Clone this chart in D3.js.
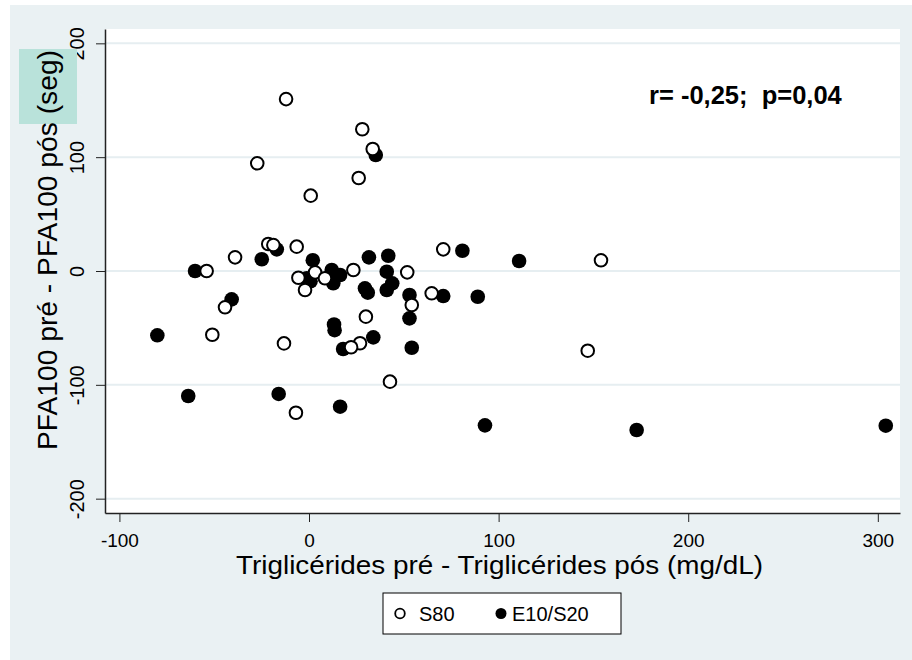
<!DOCTYPE html>
<html>
<head>
<meta charset="utf-8">
<script src="https://cdn.jsdelivr.net/npm/d3@7"></script>
<style>
  body { margin: 0; background: #fff; }
  svg { display: block; font-family: "Liberation Sans", Arial, sans-serif; }
</style>
</head>
<body>
<div id="chart"></div>
<script>
// data: [triglicerides diff, PFA100 diff]
const s80 = [
  [-12.1, 151], [28.1, 124.5], [33.6, 107.2], [-27.3, 94.6], [26.2, 81.7], [0.9, 66.2],
  [-21.5, 23.7], [-18.8, 22.8], [-6.5, 21.4], [-39, 12], [-54, 0], [-5.6, -5.9],
  [-2.1, -16.7], [3.2, -1.2], [8.4, -6.4], [23.4, 0.9], [51.8, -1.2], [54.2, -29.9],
  [30, -40.1], [26.9, -63.5], [22.2, -67], [-44.3, -31.9], [-51, -56], [-13.2, -63.6],
  [-6.9, -124.5], [42.7, -97.2], [70.8, 19], [64.7, -19.6], [154, 9.4], [147, -70]
];
const e10s20 = [
  [35.2, 101.9], [-17, 19], [-24.9, 10.3], [-60.1, 0], [2, 9.5], [-1.2, -6.4],
  [0.8, -9], [12, 0.9], [16.4, -3.5], [12.8, -10.8], [31.6, 12], [41.8, 13.4],
  [41, -0.6], [43.9, -10.8], [41, -16.7], [29.5, -15.2], [31, -19], [53, -21.1],
  [53, -41.6], [54.2, -67.4], [33.9, -58.3], [80.9, 17.8], [70.8, -22], [89, -22.6],
  [110.8, 8.8], [13.2, -47], [13.5, -52], [18, -68.5], [-40.8, -24.9], [-80, -56.5],
  [-63.7, -109.8], [-16, -108], [16.4, -119.2], [92.8, -135.6], [172.8, -139.7], [304.2, -135.9]
];
const xTicks = [-100, 0, 100, 200, 300];
const yTicks = [-200, -100, 0, 100, 200];
const legendLabels = ["S80", "E10/S20"];
const xTitle = "Triglicérides pré - Triglicérides pós (mg/dL)";
const yTitle = "PFA100 pré - PFA100 pós (seg)";
const note = "r= -0,25;  p=0,04";

const W = 912, H = 660;
const plotL = 105, plotR = 900, plotT = 29, plotB = 513;

const svg = d3.select("#chart").append("svg").attr("width", W).attr("height", H);

// outer background
svg.append("rect").attr("x", 10).attr("y", 5).attr("width", W - 10).attr("height", H - 5)
  .attr("fill", "#eaf1f3");
svg.append("rect").attr("x", plotL).attr("y", plotT).attr("width", plotR - plotL).attr("height", plotB - plotT)
  .attr("fill", "#fff");

const x = d3.scaleLinear().domain([-107.6, 311.7]).range([plotL, plotR]);
const y = d3.scaleLinear().domain([-212.6, 212.6]).range([plotB, plotT]);
const plain = d => String(d); // hyphen-minus like the original, not d3's U+2212

// grid
svg.append("g").selectAll("line").data(yTicks).join("line")
  .attr("x1", plotL).attr("x2", plotR)
  .attr("y1", d => y(d)).attr("y2", d => y(d))
  .attr("stroke", "#e6eef1").attr("stroke-width", 2);

// x axis
const gx = svg.append("g").attr("transform", `translate(0,${plotB})`)
  .call(d3.axisBottom(x).tickValues(xTicks).tickFormat(plain).tickSize(9).tickSizeOuter(0));
gx.select(".domain").attr("stroke", "#222").attr("stroke-width", 1.5);
gx.selectAll(".tick line").attr("stroke", "#222");
gx.selectAll(".tick text").attr("font-size", 19).attr("fill", "#000").attr("y", 34).attr("dy", 0);

// y axis
const gy = svg.append("g").attr("transform", `translate(${plotL},0)`)
  .call(d3.axisLeft(y).tickValues(yTicks).tickFormat(plain).tickSize(9).tickSizeOuter(0));
gy.select(".domain").attr("stroke", "#222").attr("stroke-width", 1.5);
gy.selectAll(".tick line").attr("stroke", "#222");
gy.selectAll(".tick text")
  .attr("font-size", 20).attr("fill", "#000")
  .attr("transform", "rotate(-90)")
  .attr("text-anchor", "middle")
  .attr("x", 0).attr("y", -21).attr("dy", 0);

// y title highlight + titles
svg.append("rect").attr("x", 19).attr("y", 49).attr("width", 58).attr("height", 75)
  .attr("fill", "#b9e2da");
svg.append("text")
  .attr("transform", "translate(57,250) rotate(-90)")
  .attr("text-anchor", "middle")
  .attr("font-size", 28).attr("fill", "#000")
  .attr("textLength", 400).attr("lengthAdjust", "spacingAndGlyphs")
  .text(yTitle);
svg.append("text")
  .attr("x", 499.5).attr("y", 574)
  .attr("text-anchor", "middle")
  .attr("font-size", 26).attr("fill", "#000")
  .attr("textLength", 527).attr("lengthAdjust", "spacingAndGlyphs")
  .text(xTitle);

// annotation
svg.append("text")
  .attr("x", 649).attr("y", 104)
  .attr("font-size", 25.5).attr("font-weight", "bold").attr("fill", "#000")
  .style("white-space", "pre")
  .text(note);

// points
svg.append("g").selectAll("circle").data(e10s20).join("circle")
  .attr("cx", d => x(d[0])).attr("cy", d => y(d[1])).attr("r", 7.3)
  .attr("fill", "#000");
svg.append("g").selectAll("circle").data(s80).join("circle")
  .attr("cx", d => x(d[0])).attr("cy", d => y(d[1])).attr("r", 6.3)
  .attr("fill", "#fff").attr("stroke", "#000").attr("stroke-width", 2);

// legend
const lg = svg.append("g");
lg.append("rect").attr("x", 383).attr("y", 593).attr("width", 238).attr("height", 41)
  .attr("fill", "#fff").attr("stroke", "#000").attr("stroke-width", 1);
const itemX = [400, 501];
lg.selectAll("circle").data(legendLabels).join("circle")
  .attr("cx", (d, i) => itemX[i]).attr("cy", 613.5).attr("r", (d, i) => i ? 5.5 : 4.8)
  .attr("fill", (d, i) => i ? "#000" : "#fff")
  .attr("stroke", "#000").attr("stroke-width", (d, i) => i ? 0 : 1.8);
lg.selectAll("text").data(legendLabels).join("text")
  .attr("x", (d, i) => itemX[i] + (i ? 11 : 19)).attr("y", 621)
  .attr("font-size", 20).attr("fill", "#000")
  .text(d => d);
</script>
</body>
</html>
